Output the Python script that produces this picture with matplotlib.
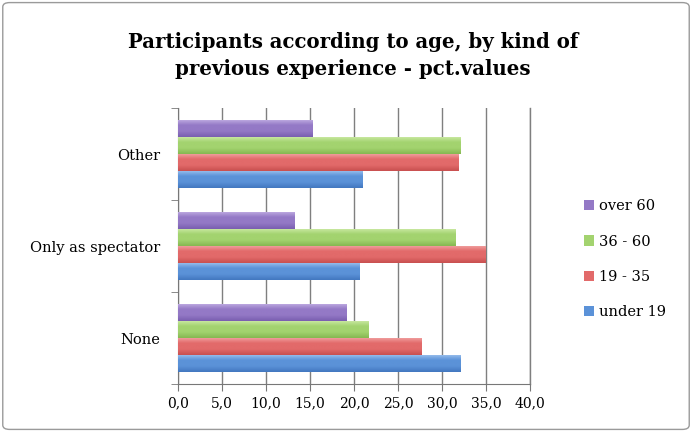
import matplotlib
matplotlib.use("Agg")
import matplotlib.pyplot as plt
import numpy as np
from matplotlib.colors import LinearSegmentedColormap
from matplotlib.patches import FancyBboxPatch

# categories, bottom to top
categories = ["None", "Only as spectator", "Other"]
series_names = ["under 19", "19 - 35", "36 - 60", "over 60"]
under_19 = [32.1, 20.6, 21.0]
age_19_35 = [27.6, 34.9, 31.8]
age_36_60 = [21.6, 31.5, 32.1]
over_60 = [19.1, 13.2, 15.3]
xticks = [0, 5, 10, 15, 20, 25, 30, 35, 40]

colors = ["#5b92d8", "#e26a6a", "#a3d36f", "#9479c6"]
lights = ["#9cc1ee", "#f2a3a3", "#cdeaa6", "#c1aee3"]
darks = ["#4378c0", "#c95050", "#86b852", "#7a5fb0"]

plt.rcParams['font.family'] = ['DejaVu Serif']

fig = plt.figure(figsize=(6.92, 4.32), dpi=100)
ax = fig.add_axes([0.257, 0.111, 0.509, 0.639])

y = np.arange(len(categories))
h = 0.185
values = [under_19, age_19_35, age_36_60, over_60]
grad = np.linspace(0, 1, 32).reshape(-1, 1)
for i, (vals, name) in enumerate(zip(values, series_names)):
    bars = ax.barh(y + (i - 1.5) * h, vals, height=h, color=colors[i],
                   edgecolor='none', label=name, zorder=3)
    # soft vertical shading inside each bar
    cmap = LinearSegmentedColormap.from_list(
        name, [lights[i], colors[i], colors[i], darks[i]])
    for b in bars:
        x0, y0 = b.get_x(), b.get_y()
        im = ax.imshow(grad, cmap=cmap, aspect='auto', origin='upper',
                       extent=(x0, x0 + b.get_width(), y0, y0 + b.get_height()),
                       zorder=4, interpolation='bilinear')
        im.set_clip_path(b)

ax.set_xlim(0, 40)
ax.set_ylim(-0.5, 2.5)
ax.set_xticks(xticks)
ax.set_xticklabels([f"{t:.1f}".replace(".", ",") for t in xticks], fontsize=10)
ax.set_yticks(y)
ax.set_yticklabels(categories, fontsize=10.5)
ax.tick_params(axis='y', length=0, pad=13)
ax.set_yticks([-0.5, 0.5, 1.5, 2.5], minor=True)
ax.tick_params(axis='y', which='minor', length=5, color="#777777")
ax.tick_params(axis='x', length=5, color="#777777", pad=4)
ax.grid(axis='x', color="#7f7f7f", linewidth=1.0, zorder=0)
ax.axvline(40, color="#7f7f7f", linewidth=1.0, zorder=0, clip_on=False)
for s in ['top', 'right']:
    ax.spines[s].set_visible(False)
for s in ['left', 'bottom']:
    ax.spines[s].set_color("#777777")

handles, labels = ax.get_legend_handles_labels()
fig.legend(handles[::-1], labels[::-1], loc='center left',
           bbox_to_anchor=(0.825, 0.40), frameon=False, fontsize=10.5,
           handlelength=0.7, handleheight=0.7, handletextpad=0.3,
           labelspacing=1.45)

fig.text(0.51, 0.872, "Participants according to age, by kind of\nprevious experience - pct.values",
         ha='center', va='center', fontsize=14.2, fontweight='bold',
         linespacing=1.45)

border = FancyBboxPatch((0.004, 0.006), 0.992, 0.988, boxstyle="round,pad=0,rounding_size=0.01",
                        transform=fig.transFigure, fill=False, edgecolor="#9a9a9a", linewidth=1.0)
fig.patches.append(border)

fig.savefig("out.png", dpi=100)
